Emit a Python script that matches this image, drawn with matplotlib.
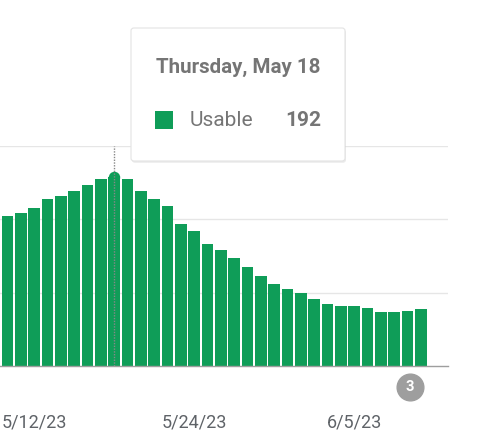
import numpy as np
import matplotlib.pyplot as plt
from matplotlib.patches import FancyBboxPatch, Rectangle

plt.rcParams['font.family'] = ['Roboto', 'DejaVu Sans']

# daily counts, May 10 .. June 10 2023
dates = ['5/10', '5/11', '5/12', '5/13', '5/14', '5/15', '5/16', '5/17', '5/18', '5/19',
         '5/20', '5/21', '5/22', '5/23', '5/24', '5/25', '5/26', '5/27', '5/28', '5/29',
         '5/30', '5/31', '6/1', '6/2', '6/3', '6/4', '6/5', '6/6', '6/7', '6/8', '6/9', '6/10']
usable = [148, 151, 156, 165, 168, 173, 179, 185, 192, 185,
          173, 165, 158, 140, 133, 121, 115, 107, 98, 89,
          81, 76, 72, 66, 61, 59, 59, 57, 53, 53, 54, 56]
tick_idx = [2, 14, 26]
tick_labels = ['5/12/23', '5/24/23', '6/5/23']
grid_vals = [72.5, 145, 217.4]
hover_idx = 8
badge_idx = 30

green = '#0f9d58'
grey_txt = '#757575'

fig = plt.figure(figsize=(4.85, 4.47), dpi=100)
ax = fig.add_axes([0, 81 / 447, 448 / 485, 220 / 447])

x = np.arange(len(usable))
heights = np.array(usable, dtype=float)
r = 5.7  # rounded top of hovered bar
heights[hover_idx] -= r
ax.bar(x, heights, width=0.875, color=green, zorder=2)
ax.scatter([hover_idx], [usable[hover_idx] - r], s=68, color=green, zorder=2, linewidths=0)
ax.set_xlim(-0.5625, 33.05)
ax.set_ylim(0, 217.4)

ax.set_yticks(grid_vals)
ax.yaxis.grid(True, color='#e6e6e6', linewidth=1.0, zorder=0)
ax.tick_params(axis='y', left=False, labelleft=False)
ax.set_xticks(tick_idx)
ax.set_xticklabels(tick_labels)
ax.tick_params(axis='x', length=0, pad=34, labelsize=13, labelcolor='#5f6368')
for s in ['left', 'right', 'top']:
    ax.spines[s].set_visible(False)
ax.spines['bottom'].set_color('#9e9e9e')
ax.spines['bottom'].set_linewidth(1.0)
ax.spines['bottom'].set_zorder(3)

# hover guide
ax.plot([hover_idx, hover_idx], [0, 217.4], color='#888888', linestyle=(0, (1, 1)),
        linewidth=1.0, zorder=3, clip_on=False)

# annotation badge
ax.scatter([badge_idx + 0.2], [-20.4], s=370, color='#9e9e9e', clip_on=False, zorder=4)
ax.text(badge_idx + 0.2, -20.4, '3', color='white', fontsize=10.5, fontweight='bold',
        ha='center', va='center', zorder=5, clip_on=False)

# tooltip
bx, by, bw, bh = 131 / 485, 286 / 447, 214 / 485, 133 / 447
shadow = FancyBboxPatch((bx + 0.002, by - 0.004), bw, bh, boxstyle='round,pad=0,rounding_size=0.006',
                        transform=fig.transFigure, fc='#000000', ec='none', alpha=0.08, zorder=10)
box = FancyBboxPatch((bx, by), bw, bh, boxstyle='round,pad=0,rounding_size=0.006',
                     transform=fig.transFigure, fc='white', ec='#e3e3e3', lw=0.8, zorder=11)
fig.add_artist(shadow)
fig.add_artist(box)
fig.text(156 / 485, 1 - 67.7 / 447, 'Thursday, May 18', fontsize=14.8, fontweight='bold',
         color=grey_txt, ha='left', va='center', zorder=12)
fig.add_artist(Rectangle((155 / 485, 1 - 129 / 447), 18 / 485, 18 / 447, transform=fig.transFigure,
                         fc=green, ec='none', zorder=12))
fig.text(190 / 485, 1 - 120.7 / 447, 'Usable', fontsize=15, color=grey_txt,
         ha='left', va='center', zorder=12)
fig.text(321 / 485, 1 - 120.7 / 447, str(usable[hover_idx]), fontsize=15, fontweight='bold',
         color=grey_txt, ha='right', va='center', zorder=12)

fig.savefig('out.png', dpi=100)
